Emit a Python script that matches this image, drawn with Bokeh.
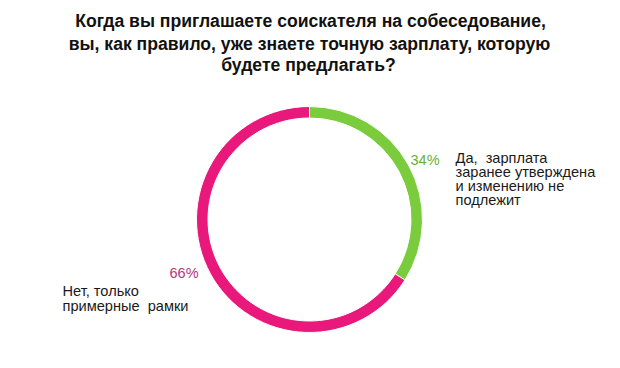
from bokeh.plotting import figure
from bokeh.models import Range1d
from bokeh.core.properties import value
from bokeh.embed import file_html
from bokeh.resources import INLINE
import math

# ---- data ----
categories = ["Да,  зарплата заранее утверждена и изменению не подлежит",
              "Нет, только примерные  рамки"]
values = [34, 66]
pct_labels = ["34%", "66%"]
label_lines_yes = ["Да,  зарплата", "заранее утверждена", "и изменению не", "подлежит"]
label_lines_no = ["Нет, только", "примерные  рамки"]
title_lines = ["Когда вы приглашаете соискателя на собеседование,",
               "вы, как правило, уже знаете точную зарплату, которую",
               "будете предлагать?"]
colors = ["#7acc3c", "#e9187b"]
pct_colors = ["#6aae3a", "#b8357a"]

def keep_spaces(lines):
    return [s.replace("  ", "\u00a0 ") for s in lines]

W, H = 604, 352
p = figure(width=W, height=H, output_backend="svg", toolbar_location=None,
           x_range=Range1d(0, W), y_range=Range1d(368 - H, 368),
           min_border=0)
p.axis.visible = False
p.grid.visible = False
p.outline_line_color = None
p.background_fill_color = "white"

def Y(y_img):
    return 368 - y_img

cx, cy = 309, Y(219)
total = sum(values)
start = math.pi / 2
starts, ends = [], []
for v in values:
    a = 2 * math.pi * v / total
    ends.append(start)
    starts.append(start - a)
    start -= a
p.annular_wedge(x=cx, y=cy, inner_radius=101.5, outer_radius=113,
                start_angle=starts, end_angle=ends, color=colors,
                line_color="white", line_width=1)

font = value("Liberation Sans")

# title
p.text(x=[310, 309, 308], y=[Y(20), Y(43), Y(64)], text=title_lines,
       text_font=font, text_font_style="bold", text_font_size="17.6px",
       text_align="center", text_baseline="middle", text_color="#111111")

# percent labels
p.text(x=[410, 169], y=[Y(159), Y(272)], text=pct_labels, text_font=font,
       text_font_size="14.5px", text_color=pct_colors, text_align="left",
       text_baseline="middle")

# category labels
p.text(x=[455] * 4, y=[Y(157), Y(171), Y(185), Y(199)],
       text=keep_spaces(label_lines_yes),
       text_font=font, text_font_size="14.6px", text_color="#1a1a1a",
       text_align="left", text_baseline="middle")
p.text(x=[62] * 2, y=[Y(290), Y(305)], text=keep_spaces(label_lines_no),
       text_font=font, text_font_size="14.6px", text_color="#1a1a1a",
       text_align="left", text_baseline="middle")

open("out.html", "w").write(file_html(p, INLINE))
